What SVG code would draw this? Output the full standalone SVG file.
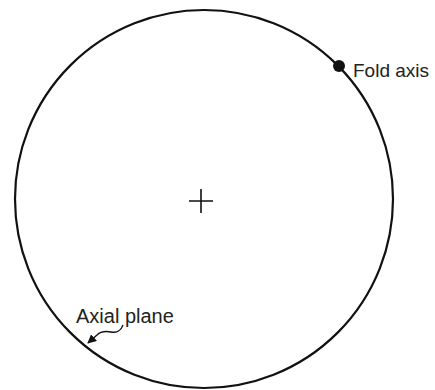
<svg xmlns="http://www.w3.org/2000/svg" width="435" height="390" viewBox="0 0 435 390">
<style>
.lbl{font-family:"Liberation Sans",Arial,sans-serif;fill:#222;}
.ln{fill:none;stroke:#111;}
</style>
<defs>
<marker id="ah" viewBox="0 0 10 10" refX="9" refY="5" markerWidth="9" markerHeight="9" markerUnits="userSpaceOnUse" orient="auto">
<path d="M0,0 L10,5 L0,10 z" fill="#111"/>
</marker>
</defs>
<rect width="435" height="390" fill="#fff"/>
<g id="net">
<circle class="ln" cx="204" cy="199" r="189" stroke-width="2.2"/>
<path class="ln" d="M189,201 H213 M201,189 V213" stroke-width="1.6"/>
</g>
<g id="fold-axis">
<circle cx="339" cy="66" r="6" fill="#111"/>
<text class="lbl" x="353" y="77" font-size="19">Fold axis</text>
</g>
<g id="axial-plane">
<text class="lbl" x="76" y="322.5" font-size="20">Axial plane</text>
</g>
<g id="connectors">
<path class="ln" d="M123,325 C121,331 116,333 111,332 C106,331 101,331 97,335 L88,343" stroke-width="1.4" marker-end="url(#ah)"/>
</g>
</svg>
